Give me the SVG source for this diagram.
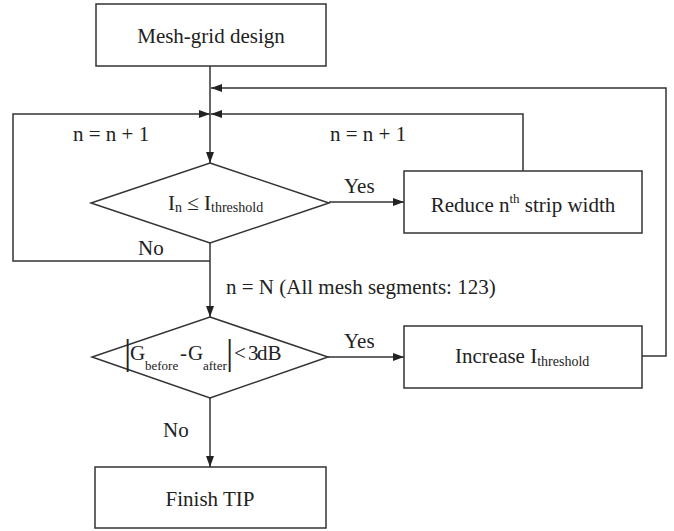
<svg xmlns="http://www.w3.org/2000/svg" width="674" height="531" viewBox="0 0 674 531" font-family="'Liberation Serif', 'Times New Roman', serif">
<style>
.box{fill:#fff;stroke:#333;stroke-width:1.5}
.ln{fill:none;stroke:#333;stroke-width:1.5}
text{font-family:"Liberation Serif","Times New Roman",serif;font-size:21px;fill:#222}
.sub{font-size:14px}
.sub2{font-size:13px}
.sup{font-size:13px}
.bar{font-size:36px}
</style>
<defs>
<marker id="ah" markerUnits="userSpaceOnUse" markerWidth="11" markerHeight="8" refX="11" refY="4" orient="auto">
<path d="M0,0 L11,4 L0,8 z" fill="#222"/>
</marker>
</defs>
<rect width="674" height="531" fill="#fff"/>
<g id="connectors">
<path class="ln" d="M210,66 V163" marker-end="url(#ah)"/>
<path class="ln" d="M642,356 H666 V88 H211" marker-end="url(#ah)"/>
<path class="ln" d="M523,171 V114 H211" marker-end="url(#ah)"/>
<path class="ln" d="M210,261 H13 V114 H210" marker-end="url(#ah)"/>
<path class="ln" d="M210,243 V317" marker-end="url(#ah)"/>
<path class="ln" d="M329,202 H404" marker-end="url(#ah)"/>
<path class="ln" d="M328,357 H404" marker-end="url(#ah)"/>
<path class="ln" d="M210,398 V467" marker-end="url(#ah)"/>
<text x="73" y="141">n = n + 1</text>
<text x="330" y="141">n = n + 1</text>
<text x="344" y="193">Yes</text>
<text x="344" y="348">Yes</text>
<text x="138" y="255">No</text>
<text x="163" y="437">No</text>
<text x="226" y="294">n = N (All mesh segments: 123)</text>
</g>
<g id="mesh-grid">
<rect class="box" x="96" y="4" width="230" height="62"/>
<text x="211" y="43" text-anchor="middle">Mesh-grid design</text>
</g>
<g id="decision1">
<polygon class="box" points="210,163 329,203 210,243 91,203"/>
<text x="168" y="210">I<tspan class="sub" dy="2">n</tspan><tspan dy="-2"> ≤ I</tspan><tspan class="sub" dy="2">threshold</tspan></text>
</g>
<g id="reduce">
<rect class="box" x="404" y="171" width="238" height="62"/>
<text x="523" y="212" text-anchor="middle">Reduce n<tspan class="sup" dy="-9">th</tspan><tspan dy="9"> strip width</tspan></text>
</g>
<g id="decision2">
<polygon class="box" points="210,317 328,357 210,398 92,357"/>
<text x="124" y="364" class="bar">|</text>
<text x="130" y="360">G</text>
<text x="145" y="370" class="sub2">before</text>
<text x="180" y="360">-</text>
<text x="188" y="360">G</text>
<text x="203" y="370" class="sub2">after</text>
<text x="226" y="364" class="bar">|</text>
<text x="234" y="360">&lt;</text>
<text x="248" y="360">3</text>
<text x="257" y="360">dB</text>
</g>
<g id="increase">
<rect class="box" x="404" y="326" width="238" height="62"/>
<text x="455" y="363">Increase I<tspan class="sub" dy="3">threshold</tspan></text>
</g>
<g id="finish">
<rect class="box" x="95" y="467" width="231" height="61"/>
<text x="210" y="506" text-anchor="middle">Finish TIP</text>
</g>
</svg>
